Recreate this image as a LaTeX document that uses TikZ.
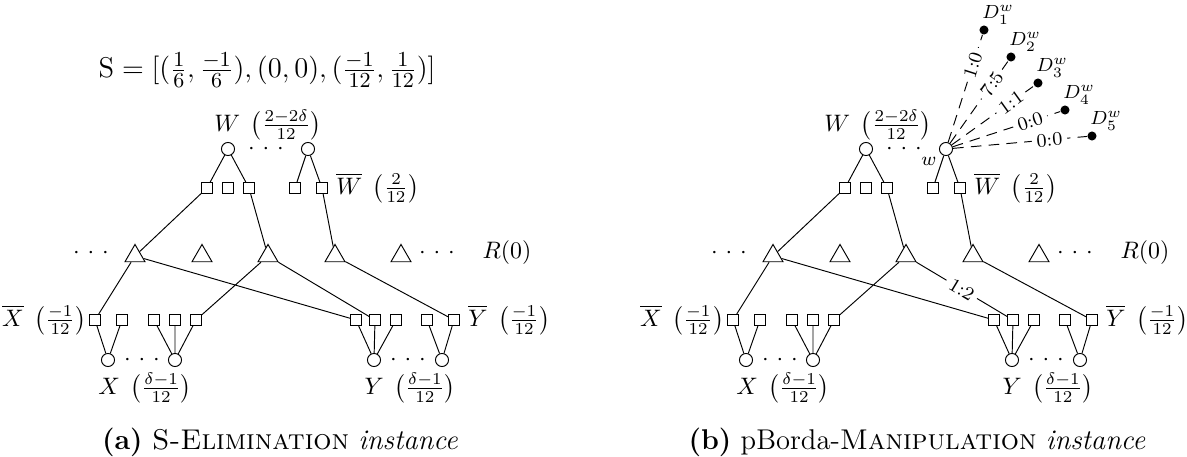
\documentclass[tikz,border=0pt]{standalone}
\usetikzlibrary{shapes.geometric,calc}
\newcommand\spdots{${\cdot}\mkern6mu{\cdot}\mkern6mu{\cdot}$}
\newcommand\drawpanel[2]{%
\node[vtx] (#1W1) at (#2+228,149) {};
\node[vtx] (#1W2) at (#2+308,149) {};
\node[dotsn] (#1Wd) at (#2+266,149) {\spdots};
\node[sq] (#1t1) at (#2+207,188) {};
\node[sq] (#1t2) at (#2+228,188) {};
\node[sq] (#1t3) at (#2+249,188) {};
\node[sq] (#1t4) at (#2+295,188) {};
\node[sq] (#1t5) at (#2+322,188) {};
\node[anchor=west] (#1Wbar) at (#1t5.east) {$\overline{W}\;\left(\frac{2}{12}\right)$};
\node[tri] (#1T1) at (#2+135,256) {};
\node[tri] (#1T2) at (#2+202,256) {};
\node[tri] (#1T3) at (#2+268,256) {};
\node[tri] (#1T4) at (#2+335,256) {};
\node[tri] (#1T5) at (#2+401,256) {};
\node[dotsn] (#1Ld) at (#2+91,253) {\spdots};
\node[dotsn] (#1Rd) at (#2+437,253) {\spdots};
\node (#1R) at (#2+507,253) {$R(0)$};
\node[sq] (#1b1) at (#2+95,320) {};
\node[sq] (#1b2) at (#2+122,320) {};
\node[sq] (#1b3) at (#2+154,320) {};
\node[sq] (#1b4) at (#2+175,320) {};
\node[sq] (#1b5) at (#2+196,320) {};
\node[sq] (#1b6) at (#2+356,320) {};
\node[sq] (#1b7) at (#2+375,320) {};
\node[sq] (#1b8) at (#2+396,320) {};
\node[sq] (#1b9) at (#2+427,320) {};
\node[sq] (#1b10) at (#2+454,320) {};
\node[anchor=east,inner sep=1pt] (#1Xbar) at (#1b1.west) {$\overline{X}\;\left(\frac{-1}{12}\right)$};
\node[anchor=west] (#1Ybar) at (#1b10.east) {$\overline{Y}\;\left(\frac{-1}{12}\right)$};
\node[vtx] (#1X1) at (#2+108,360) {};
\node[vtx] (#1X2) at (#2+175,360) {};
\node[vtx] (#1Y1) at (#2+374,360) {};
\node[vtx] (#1Y2) at (#2+442,360) {};
\node[dotsn] (#1Xd) at (#2+142,360) {\spdots};
\node[dotsn] (#1Yd) at (#2+408,360) {\spdots};
\node (#1Xl) at (#2+145,388) {$X\;\left(\frac{\delta-1}{12}\right)$};
\node (#1Yl) at (#2+410,388) {$Y\;\left(\frac{\delta-1}{12}\right)$};
\draw (#1W1) -- (#1t1) (#1W1) -- (#1t3) (#1W2) -- (#1t4) (#1W2) -- (#1t5);
\draw (#1t1) -- (#1T1) (#1t3) -- (#1T3) (#1t5) -- (#1T4);
\draw (#1T1) -- (#1b1) (#1T1) -- (#1b6) (#1T3) -- (#1b5) (#1T4) -- (#1b10);
\draw (#1X1) -- (#1b1) (#1X1) -- (#1b2) (#1X2) -- (#1b3) (#1X2) -- (#1b4) (#1X2) -- (#1b5);
\draw (#1Y1) -- (#1b6) (#1Y1) -- (#1b7) (#1Y1) -- (#1b8) (#1Y2) -- (#1b9) (#1Y2) -- (#1b10);
}
\begin{document}
\begin{tikzpicture}[x=0.42pt,y=-0.42pt,
  vtx/.style={circle,draw,inner sep=0pt,minimum size=5.5pt},
  sq/.style={rectangle,draw,inner sep=0pt,minimum size=4.6pt},
  tri/.style={regular polygon,regular polygon sides=3,draw,inner sep=0pt,minimum size=9.7pt},
  dotsn/.style={inner sep=0pt},
  ddot/.style={circle,fill,inner sep=0pt,minimum size=3.8pt},
  dlab/.style={anchor=south west,inner sep=0pt,font=\footnotesize},
  elab/.style={font=\footnotesize,sloped,fill=white,inner sep=2pt},
  dline/.style={dash pattern=on 4.5pt off 3pt},
  captxt/.style={font=\large}
]
\useasboundingbox (0,0) rectangle (1187,457);
% panel (a)
\node[font=\fontsize{12.6}{15}\selectfont] (S) at (267,70) {$\mathrm{S} = [(\frac{1}{6}, \frac{-1}{6}), (0,0), (\frac{-1}{12}, \frac{1}{12})]$};
\node (aWl) at (268,125) {$W\;\left(\frac{2-2\delta}{12}\right)$};
\drawpanel{a}{0}
\draw (aT3) -- (ab7);
\node[captxt] (capa) at (280,442) {\textbf{(a)} \textsc{S-Elimination} \textit{instance}};
% panel (b)
\node (bWl) at (878,125) {$W\;\left(\frac{2-2\delta}{12}\right)$};
\drawpanel{b}{638}
\draw (bT3) -- node[elab,pos=0.5] {1:2} (bb7);
\node[ddot] (D1) at (984,30) {};
\node[ddot] (D2) at (1011,57) {};
\node[ddot] (D3) at (1038,83) {};
\node[ddot] (D4) at (1065,110) {};
\node[ddot] (D5) at (1092,136) {};
\node[dlab] (L1) at ($(D1.center)+(-2,-5)$) {$D_1^w$};
\node[dlab] (L2) at ($(D2.center)+(-2,-5)$) {$D_2^w$};
\node[dlab] (L3) at ($(D3.center)+(-2,-5)$) {$D_3^w$};
\node[dlab] (L4) at ($(D4.center)+(-2,-5)$) {$D_4^w$};
\node[dlab] (L5) at ($(D5.center)+(-2,-5)$) {$D_5^w$};
\draw[dline] (bW2) -- node[elab,pos=0.72] {1:0} (D1);
\draw[dline] (bW2) -- node[elab,pos=0.72] {7:5} (D2);
\draw[dline] (bW2) -- node[elab,pos=0.72] {1:1} (D3);
\draw[dline] (bW2) -- node[elab,pos=0.72] {0:0} (D4);
\draw[dline] (bW2) -- node[elab,pos=0.72] {0:0} (D5);
\node[font=\footnotesize,inner sep=0pt] (wl) at (929,161) {$w$};
\node[captxt] (capb) at (917,442) {\textbf{(b)} pBorda-\textsc{Manipulation} \textit{instance}};
\end{tikzpicture}
\end{document}
